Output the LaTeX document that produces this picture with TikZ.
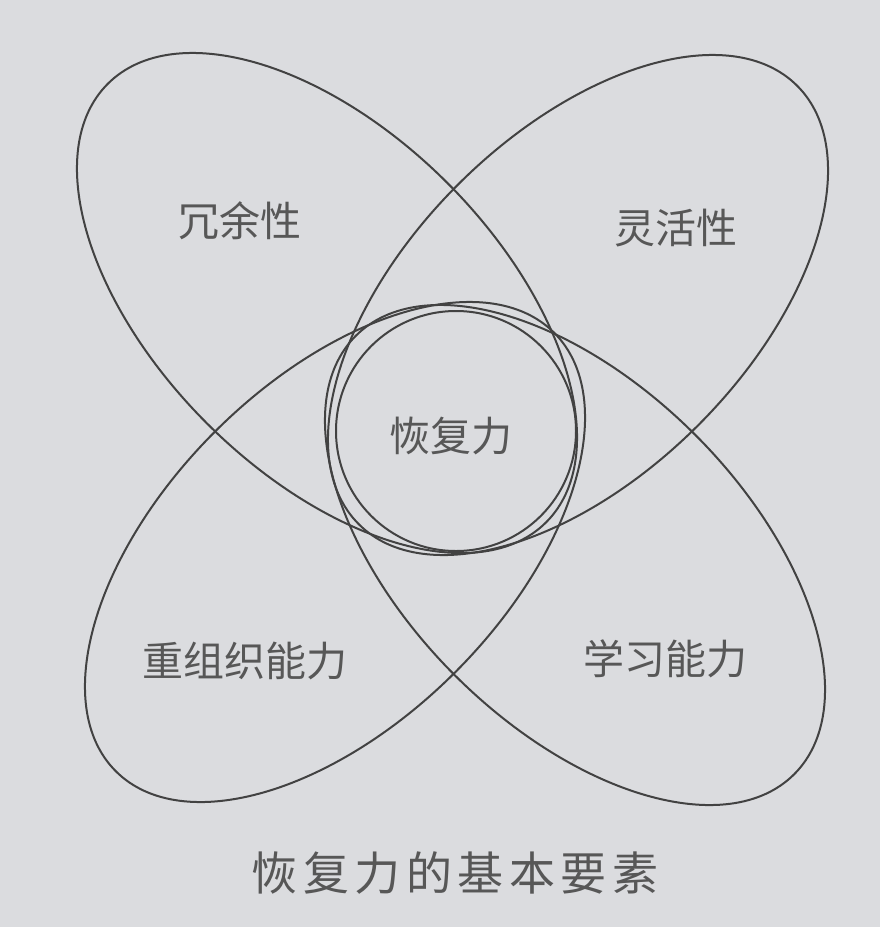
\documentclass[tikz,border=0pt]{standalone}
\usepackage{fontspec}
\newfontfamily\cjk{Noto Sans CJK SC}
\newfontfamily\cjkwide[LetterSpace=12]{Noto Sans CJK SC}
\colorlet{lnx}{black!74}
\colorlet{txx}{black!66}
\definecolor{bgx}{RGB}{219,220,223}
\tikzset{
    petal/.style={lnx,line width=2pt},
    word/.style={txx,inner sep=0pt,font=\cjk\fontsize{41}{41}\selectfont},
    capt/.style={txx,inner sep=0pt,font=\cjkwide\fontsize{46}{46}\selectfont}
}

\begin{document}
\begin{tikzpicture}[x=1pt,y=-1pt]
    \fill [bgx] (0,0) rectangle (880,927);
    \useasboundingbox (0,0) rectangle (880,927);
    \coordinate (tl) at (327,303);
    \coordinate (tr) at (578,305);
    \coordinate (bl) at (335,552);
    \coordinate (br) at (575,555);
    \coordinate (ctr) at (456,431);
    \foreach \c/\a in {tl/-45,tr/45,bl/45,br/-45} {
        \draw [petal,rotate around={\a:(\c)}] (\c) ellipse [x radius=310,y radius=170];
    }
    \draw [petal] (ctr) circle [radius=120];
    \node [word] (redund) at (240,221) {冗余性};
    \node [word] (flex) at (676,228) {灵活性};
    \node [word] (resil) at (451,436) {恢复力};
    \node [word] (reorg) at (245,661) {重组织能力};
    \node [word] (learn) at (665,659) {学习能力};
    \node [capt] (title) at (455,873) {恢复力的基本要素};
\end{tikzpicture}
\end{document}
